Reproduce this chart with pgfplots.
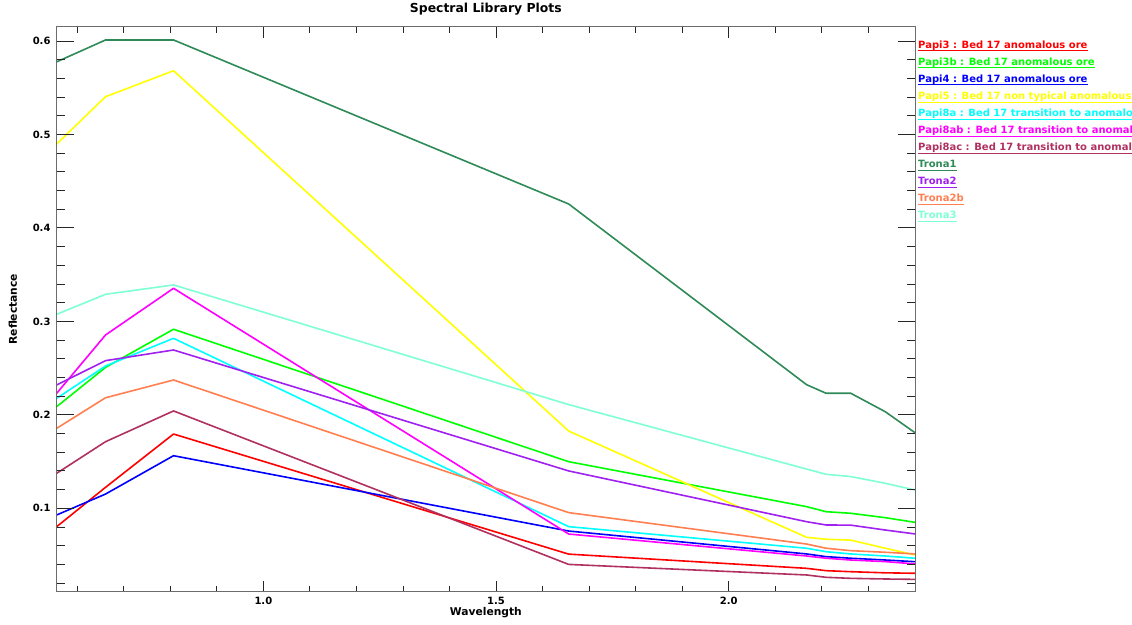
\documentclass[border=0pt]{standalone}
\usepackage{pgfplots}
\pgfplotsset{compat=1.18}
\usepackage{fontspec}
\setmainfont{DejaVu Sans}
\definecolor{cPapiA}{RGB}{255,0,0}
\definecolor{cPapiB}{RGB}{0,255,0}
\definecolor{cPapiC}{RGB}{0,0,255}
\definecolor{cPapiD}{RGB}{255,255,0}
\definecolor{cPapiE}{RGB}{0,255,255}
\definecolor{cPapiF}{RGB}{255,0,255}
\definecolor{cPapiG}{RGB}{176,48,96}
\definecolor{cTronaA}{RGB}{46,139,87}
\definecolor{cTronaB}{RGB}{160,32,240}
\definecolor{cTronaC}{RGB}{255,127,80}
\definecolor{cTronaD}{RGB}{127,255,212}
\newcommand{\lfont}{\bfseries\fontsize{10}{12}\selectfont}
\newcommand{\labfont}{\bfseries\fontsize{10.7}{12.5}\selectfont}
\newcommand{\titfont}{\bfseries\fontsize{12.4}{14}\selectfont}
\newcommand{\legitem}[3]{%
  \node[anchor=base west, inner sep=0pt, text=#2, font=\lfont] (L#1) at (918, {575.7-17.04*#1}) {#3};
  \draw[#2, line width=1pt] ([yshift=-2.6pt]L#1.base west) -- ([yshift=-2.6pt]L#1.base east);}
\begin{document}
\begin{tikzpicture}[x=1pt,y=1pt]
\pgfplotsset{
  common/.style={
    at={(56.7pt,32.3pt)}, anchor=south west, scale only axis,
    width=858.3pt, height=565pt,
    xmin=0.556, xmax=2.4, ymin=0.0108, ymax=0.6153,
    axis line style={draw=gray!85!black, line width=0.9pt},
    tick style={draw=black!85, line width=0.9pt},
    tick align=inside,
    ticklabel style={font=\lfont},
    /pgf/number format/assume math mode=true,
  }
}
\begin{axis}[common,
  xtick={1,1.5,2}, xticklabels={1.0,1.5,2.0},
  minor xtick={0.6,0.7,0.8,0.9,1.1,1.2,1.3,1.4,1.6,1.7,1.8,1.9,2.1,2.2,2.3},
  ytick=\empty,
  major tick length=11pt, minor tick length=6pt,
  xticklabel style={anchor=center, yshift=-9.3pt, inner sep=0pt},
  xlabel={Wavelength},
  xlabel style={at={(axis description cs:0.5,-0.0377)}, anchor=center, font=\labfont},
  title={Spectral Library Plots},
  title style={at={(axis description cs:0.5,1.0207)}, anchor=center, font=\titfont},
  every axis plot/.append style={line width=1.6pt, line join=round},
]
% Papi3
\addplot[cPapiA] coordinates {(0.556,0.0804) (0.661,0.1225) (0.807,0.1795) (1.656,0.0510) (2.167,0.0358) (2.209,0.0333) (2.262,0.0322) (2.336,0.0310) (2.400,0.0305)};
% Papi3b
\addplot[cPapiB] coordinates {(0.556,0.2088) (0.661,0.2508) (0.807,0.2916) (1.656,0.1499) (2.167,0.1018) (2.209,0.0964) (2.262,0.0947) (2.336,0.0900) (2.400,0.0850)};
% Papi4
\addplot[cPapiC] coordinates {(0.556,0.0929) (0.661,0.1153) (0.807,0.1563) (1.656,0.0757) (2.167,0.0512) (2.209,0.0483) (2.262,0.0466) (2.336,0.0447) (2.400,0.0429)};
% Papi5
\addplot[cPapiD] coordinates {(0.556,0.4898) (0.661,0.5404) (0.807,0.5682) (1.656,0.1827) (2.167,0.0690) (2.209,0.0669) (2.262,0.0660) (2.336,0.0573) (2.400,0.0501)};
% Papi8a
\addplot[cPapiE] coordinates {(0.556,0.2177) (0.661,0.2523) (0.807,0.2819) (1.656,0.0804) (2.167,0.0573) (2.209,0.0536) (2.262,0.0512) (2.336,0.0490) (2.400,0.0466)};
% Papi8ab
\addplot[cPapiF] coordinates {(0.556,0.2231) (0.661,0.2855) (0.807,0.3354) (1.656,0.0725) (2.167,0.0490) (2.209,0.0466) (2.262,0.0447) (2.336,0.0430) (2.400,0.0405)};
% Papi8ac
\addplot[cPapiG] coordinates {(0.556,0.1375) (0.661,0.1713) (0.807,0.2042) (1.656,0.0400) (2.167,0.0287) (2.209,0.0262) (2.262,0.0251) (2.336,0.0244) (2.400,0.0240)};
% Trona1
\addplot[cTronaA] coordinates {(0.556,0.5777) (0.661,0.6011) (0.807,0.6011) (1.656,0.4256) (2.167,0.2323) (2.209,0.2231) (2.262,0.2231) (2.336,0.2034) (2.400,0.1809)};
% Trona2
\addplot[cTronaB] coordinates {(0.556,0.2320) (0.661,0.2580) (0.807,0.2694) (1.656,0.1400) (2.167,0.0857) (2.209,0.0822) (2.262,0.0820) (2.336,0.0768) (2.400,0.0726)};
% Trona2b
\addplot[cTronaC] coordinates {(0.556,0.1856) (0.661,0.2183) (0.807,0.2373) (1.656,0.0954) (2.167,0.0618) (2.209,0.0573) (2.262,0.0547) (2.336,0.0530) (2.400,0.0512)};
% Trona3
\addplot[cTronaD] coordinates {(0.556,0.3076) (0.661,0.3290) (0.807,0.3390) (1.656,0.2110) (2.167,0.1420) (2.209,0.1364) (2.262,0.1340) (2.336,0.1268) (2.400,0.1196)};
\end{axis}
\begin{axis}[common,
  xtick=\empty,
  ytick={0.1,0.2,0.3,0.4,0.5,0.6}, yticklabels={0.1,0.2,0.3,0.4,0.5,0.6},
  minor ytick={0.02,0.04,0.06,0.08,0.12,0.14,0.16,0.18,0.22,0.24,0.26,0.28,0.32,0.34,0.36,0.38,0.42,0.44,0.46,0.48,0.52,0.54,0.56,0.58},
  major tick length=17pt, minor tick length=8pt,
  yticklabel style={anchor=east, xshift=-6pt, inner sep=0pt},
  ylabel={Reflectance},
  ylabel style={at={(axis description cs:-0.0509,0.5)}, anchor=center, rotate=0, font=\labfont},
]
\end{axis}
\legitem{0}{cPapiA}{Papi3 : Bed 17 anomalous ore}
\legitem{1}{cPapiB}{Papi3b : Bed 17 anomalous ore}
\legitem{2}{cPapiC}{Papi4 : Bed 17 anomalous ore}
\legitem{3}{cPapiD}{Papi5 : Bed 17 non typical anomalous ore}
\legitem{4}{cPapiE}{Papi8a : Bed 17 transition to anomalous ore}
\legitem{5}{cPapiF}{Papi8ab : Bed 17 transition to anomalous ore}
\legitem{6}{cPapiG}{Papi8ac : Bed 17 transition to anomalous ore}
\legitem{7}{cTronaA}{Trona1}
\legitem{8}{cTronaB}{Trona2}
\legitem{9}{cTronaC}{Trona2b}
\legitem{10}{cTronaD}{Trona3}
\pgfresetboundingbox
\path[use as bounding box] (0,0) rectangle (1132,624);
\end{tikzpicture}
\end{document}
